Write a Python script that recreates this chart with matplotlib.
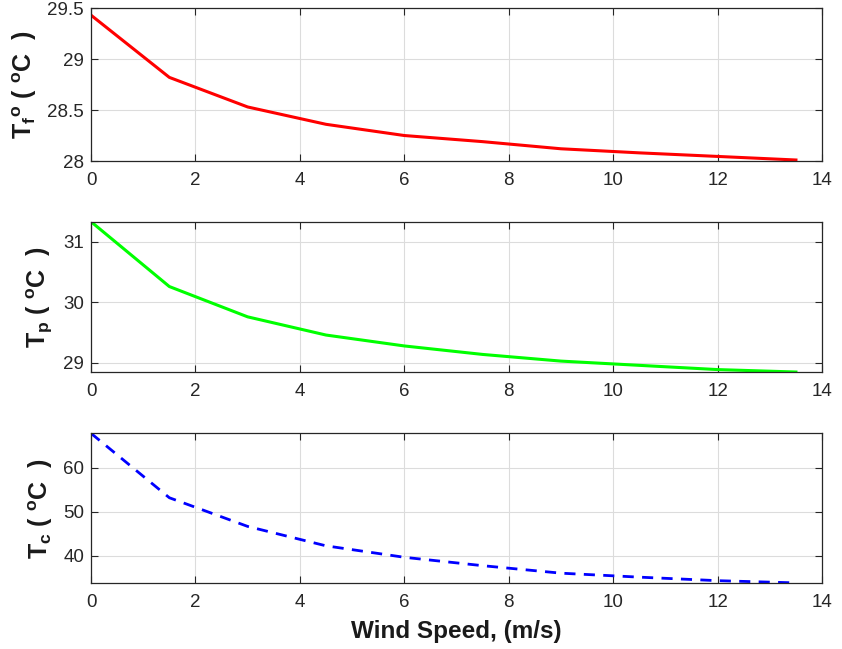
import matplotlib
matplotlib.use("Agg")
import matplotlib.pyplot as plt

plt.rcParams['font.family'] = ['Liberation Sans', 'DejaVu Sans']
plt.rcParams['mathtext.fontset'] = 'custom'
plt.rcParams['mathtext.rm'] = 'Liberation Sans:bold'
plt.rcParams['mathtext.it'] = 'Liberation Sans:bold'
plt.rcParams['mathtext.bf'] = 'Liberation Sans:bold'
plt.rcParams['mathtext.default'] = 'bf'

wind_speed = [0, 1.5, 3, 4.5, 6, 7.5, 9, 10.5, 12, 13.5]
t_fo = [29.43, 28.82, 28.53, 28.36, 28.25, 28.19, 28.12, 28.08, 28.045, 28.01]
t_p = [31.33, 30.26, 29.76, 29.46, 29.28, 29.14, 29.03, 28.96, 28.89, 28.85]
t_c = [67.8, 53.2, 46.7, 42.3, 39.7, 37.8, 36.1, 35.2, 34.4, 33.9]

x_ticks = [0, 2, 4, 6, 8, 10, 12, 14]
yticks_top = [28, 28.5, 29, 29.5]
yticks_mid = [29, 30, 31]
yticks_bot = [40, 50, 60]

ylabels = [r'T$_f{}^o$ ( $^o$C  )', r'T$_p$ ( $^o$C  )', r'T$_c$ ( $^o$C  )']
xlabel = 'Wind Speed, (m/s)'

fig = plt.figure(figsize=(8.42, 6.49), dpi=100)
rects = [[0.1081, 0.7519, 0.8682, 0.2357],
         [0.1081, 0.4268, 0.8682, 0.2316],
         [0.1081, 0.1012, 0.8682, 0.2311]]
axes = [fig.add_axes(r) for r in rects]

axes[0].plot(wind_speed, t_fo, color=(1, 0, 0), lw=2.2)
axes[1].plot(wind_speed, t_p, color=(0, 1, 0), lw=2.2)
axes[2].plot(wind_speed, t_c, color=(0, 0, 1), lw=2.0, linestyle=(0, (4, 3)))

axes[0].set_ylim(28, 29.5)
axes[0].set_yticks(yticks_top)
axes[0].set_yticklabels(['28', '28.5', '29', '29.5'])
axes[1].set_ylim(28.85, 31.33)
axes[1].set_yticks(yticks_mid)
axes[2].set_ylim(33.8, 67.8)
axes[2].set_yticks(yticks_bot)

tc = '#262626'
for ax, lab in zip(axes, ylabels):
    ax.set_xlim(0, 14)
    ax.set_xticks(x_ticks)
    ax.grid(True, color='#dcdcdc', lw=0.8)
    ax.set_axisbelow(True)
    ax.tick_params(direction='in', top=True, right=True, length=5, width=0.8,
                   color=tc, labelcolor=tc, labelsize=13.5)
    ax.tick_params(axis='x', pad=8)
    ax.tick_params(axis='y', pad=5)
    for s in ax.spines.values():
        s.set_color(tc)
        s.set_linewidth(0.9)
    ax.set_ylabel(lab, fontsize=18, fontweight='bold', color='#1a1a1a', labelpad=6)

axes[2].set_xlabel(xlabel, fontsize=17.5, fontweight='bold', color='#1a1a1a', labelpad=6)

fig.savefig('out.png', dpi=100)
